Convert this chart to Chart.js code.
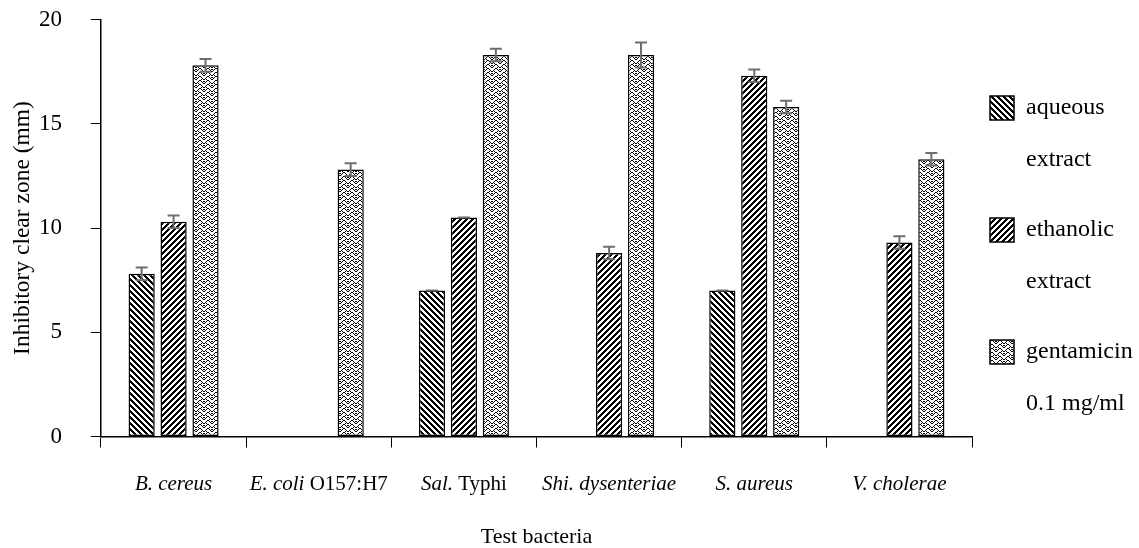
<!DOCTYPE html>
<html>
<head>
<meta charset="utf-8">
<script src="https://cdn.jsdelivr.net/npm/chart.js@4.4.1/dist/chart.umd.min.js"></script>
<style>
  html, body { margin: 0; padding: 0; background: #ffffff; }
  #wrap { width: 1139px; height: 548px; position: relative; }
</style>
</head>
<body>
<div id="wrap"><canvas id="chart"></canvas></div>
<script>
// ---- data ----
const categories = ['B. cereus', 'E. coli O157:H7', 'Sal. Typhi', 'Shi. dysenteriae', 'S. aureus', 'V. cholerae'];
const categoryItalicPart = ['B. cereus', 'E. coli', 'Sal.', 'Shi. dysenteriae', 'S. aureus', 'V. cholerae'];
const seriesNames = ['aqueous extract', 'ethanolic extract', 'gentamicin 0.1 mg/ml'];
const legendLines = [['aqueous', 'extract'], ['ethanolic', 'extract'], ['gentamicin', '0.1 mg/ml']];
const aqueous = [7.8, 0, 7.0, 0, 7.0, 0];
const ethanolic = [10.3, 0, 10.5, 8.8, 17.3, 9.3];
const gentamicin = [17.8, 12.8, 18.3, 18.3, 15.8, 13.3];
const aqueousErr = [0.3, 0, 0, 0, 0, 0];
const ethanolicErr = [0.3, 0, 0, 0.3, 0.3, 0.3];
const gentamicinErr = [0.3, 0.3, 0.3, 0.6, 0.3, 0.3];
const yTicks = [0, 5, 10, 15, 20];
const yTitle = 'Inhibitory clear zone (mm)';
const xTitle = 'Test bacteria';

const FONT = "'Liberation Serif', 'Times New Roman', serif";

// ---- patterns ----
function makePattern(w, h, isBlack) {
  const c = document.createElement('canvas');
  c.width = w; c.height = h;
  const g = c.getContext('2d');
  g.fillStyle = '#ffffff';
  g.fillRect(0, 0, w, h);
  g.fillStyle = '#000000';
  for (let y = 0; y < h; y++) {
    for (let x = 0; x < w; x++) {
      if (isBlack(x, y)) g.fillRect(x, y, 1, 1);
    }
  }
  return g.createPattern(c, 'repeat');
}
const patAqueous = makePattern(6, 6, (x, y) => ((x - y + 60) % 6) < 3);
const patEthanolic = makePattern(6, 6, (x, y) => ((x + y) % 6) < 3);
// herringbone of dotted chevrons
const patGenta = makePattern(16, 8, (x, y) => {
  const col = Math.floor(x / 8);
  const lx = x % 8;
  const yy = (y + col * 4) % 8;
  const d = lx < 4 ? lx : 7 - lx;
  if (yy === d) return true;
  if (yy === (d + 4) % 8) return true;
  if (yy === (d + 2) % 8) return lx === 1 || lx === 6 || lx === 3 || lx === 4;
  return false;
});

const seriesValues = [aqueous, ethanolic, gentamicin];
const seriesErrors = [aqueousErr, ethanolicErr, gentamicinErr];
const seriesPatterns = [patAqueous, patEthanolic, patGenta];

// ---- plugins ----
const errorBarPlugin = {
  id: 'errorBars',
  afterDatasetsDraw(chart) {
    const ctx = chart.ctx;
    const yScale = chart.scales.y;
    ctx.save();
    ctx.strokeStyle = '#6e6e6e';
    ctx.lineWidth = 2;
    seriesValues.forEach((vals, di) => {
      const meta = chart.getDatasetMeta(di);
      meta.data.forEach((bar, i) => {
        const v = vals[i];
        if (!(v > 0)) return;
        const e = seriesErrors[di][i] || 0;
        const yTop = yScale.getPixelForValue(v + e);
        const yBot = yScale.getPixelForValue(v - e);
        const x = bar.x;
        const half = 6;
        ctx.beginPath();
        ctx.moveTo(x, yTop); ctx.lineTo(x, yBot);
        ctx.moveTo(x - half, yTop); ctx.lineTo(x + half, yTop);
        ctx.moveTo(x - half, yBot); ctx.lineTo(x + half, yBot);
        ctx.stroke();
      });
    });
    ctx.restore();
  }
};

const xLabelPlugin = {
  id: 'richXLabels',
  afterDraw(chart) {
    const ctx = chart.ctx;
    const xs = chart.scales.x;
    const y = xs.top + 48;
    ctx.save();
    ctx.fillStyle = '#000000';
    ctx.textBaseline = 'middle';
    ctx.textAlign = 'left';
    const italicFont = 'italic 21px ' + FONT;
    const normalFont = '21px ' + FONT;
    categories.forEach((label, i) => {
      const it = categoryItalicPart[i];
      const rest = label.slice(it.length);
      ctx.font = italicFont;
      const w1 = ctx.measureText(it).width;
      ctx.font = normalFont;
      const w2 = rest ? ctx.measureText(rest).width : 0;
      const cx = xs.getPixelForValue(i);
      let x = cx - (w1 + w2) / 2;
      ctx.font = italicFont;
      ctx.fillText(it, x, y);
      if (rest) {
        ctx.font = normalFont;
        ctx.fillText(rest, x + w1, y);
      }
    });
    ctx.restore();
  }
};

// ---- chart ----
const datasets = seriesValues.map((vals, i) => ({
  label: seriesNames[i],
  data: vals,
  backgroundColor: seriesPatterns[i],
  borderColor: '#000000',
  borderWidth: 1.5,
  borderSkipped: false,
  categoryPercentage: 0.66,
  barPercentage: 0.82
}));

new Chart(document.getElementById('chart'), {
  type: 'bar',
  data: { labels: categories, datasets },
  options: {
    responsive: true,
    maintainAspectRatio: false,
    animation: false,
    devicePixelRatio: 1,
    layout: { padding: 0 },
    plugins: {
      tooltip: { enabled: false },
      legend: {
        position: 'right',
        align: 'start',
        maxWidth: 167,
        title: { display: true, text: '', padding: { top: 63.6, bottom: 0 }, font: { size: 12, lineHeight: 1.2 } },
        labels: {
          color: '#000000',
          boxWidth: 24,
          boxHeight: 24,
          padding: 18,
          font: { family: FONT, size: 24, lineHeight: 52 / 24 },
          generateLabels(chart) {
            const items = Chart.defaults.plugins.legend.labels.generateLabels(chart);
            items.forEach((it, i) => { it.text = legendLines[i]; it.lineWidth = 1.5; });
            return items;
          }
        }
      }
    },
    scales: {
      x: {
        grid: { display: true, drawOnChartArea: false, drawTicks: true, tickLength: 11, color: '#000000', offset: true },
        border: { display: true, color: '#000000', width: 1.5 },
        ticks: { color: 'rgba(0,0,0,0)', font: { family: FONT, size: 21 }, padding: 24, maxRotation: 0 },
        title: { display: true, text: xTitle, color: '#000000', font: { family: FONT, size: 22, lineHeight: 1 }, padding: { top: 0, bottom: 0 } },
        afterFit(scale) { scale.height = 111.5; }
      },
      y: {
        min: 0,
        max: 20,
        afterBuildTicks(scale) { scale.ticks = yTicks.map(v => ({ value: v })); },
        grid: { display: true, drawOnChartArea: false, drawTicks: true, tickLength: 10, color: '#000000' },
        border: { display: true, color: '#000000', width: 1.5 },
        ticks: { color: '#000000', font: { family: FONT, size: 23, lineHeight: 1.2 }, padding: 29 },
        title: { display: true, text: yTitle, color: '#000000', font: { family: FONT, size: 23.5, lineHeight: 1.2 }, padding: { top: 9, bottom: 0 } },
        afterFit(scale) {
          scale.width = 101;
          scale.paddingTop = 19.5;
          scale.paddingBottom = 19.5;
        }
      }
    }
  },
  plugins: [errorBarPlugin, xLabelPlugin]
});
</script>
</body>
</html>
